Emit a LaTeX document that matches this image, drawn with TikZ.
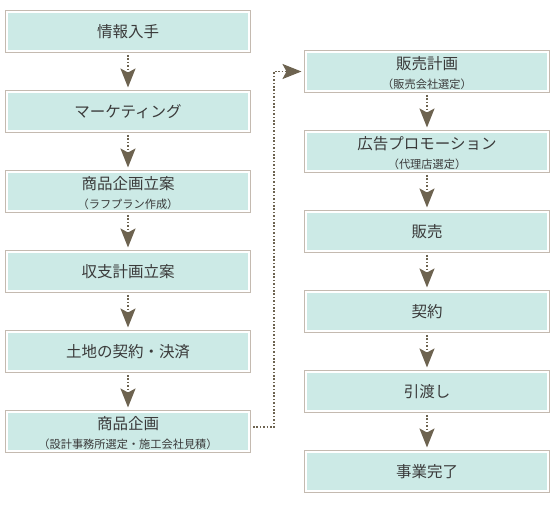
\documentclass[tikz,border=0pt]{standalone}
\usepackage{fontspec}
\setmainfont{Noto Sans CJK JP}
\usetikzlibrary{arrows.meta}
\definecolor{boxfill}{HTML}{CCEAE6}
\definecolor{boxline}{HTML}{C4BAB0}
\definecolor{arrowcol}{HTML}{6D6350}
\definecolor{textcol}{HTML}{3A3A3A}
\tikzset{
  box/.style={rectangle, minimum width=242pt, minimum height=39pt, inner sep=0pt,
    fill=boxfill, draw=white, line width=2pt,
    preaction={draw=boxline, line width=4.6pt}},
  maintext/.style={font=\fontsize{15.5pt}{17pt}\selectfont, text=textcol, inner sep=0pt},
  subtext/.style={font=\fontsize{11.2pt}{13pt}\selectfont, text=textcol, inner sep=0pt},
  conn/.style={arrowcol, line width=1.6pt, dash pattern=on 1.6pt off 1.8pt,
    -{Stealth[length=19pt, width=15pt, inset=4pt]}, shorten <=3pt, shorten >=3.5pt}
}
\begin{document}
\begin{tikzpicture}[x=1pt, y=-1pt]
\useasboundingbox (0,0) rectangle (560,505);
% left column
\node[box] (s1) at (128,31.5) {};
\node[box] (s2) at (128,111.5) {};
\node[box] (s3) at (128,191.5) {};
\node[box] (s4) at (128,271.5) {};
\node[box] (s5) at (128,351.5) {};
\node[box] (s6) at (128,431.5) {};
% right column
\node[box] (r1) at (427,71.5) {};
\node[box] (r2) at (427,151.5) {};
\node[box] (r3) at (427,231.5) {};
\node[box] (r4) at (427,311.5) {};
\node[box] (r5) at (427,391.5) {};
\node[box] (r6) at (427,471.5) {};
% texts
\node[maintext] (t1) at (s1) {情報入手};
\node[maintext] (t2) at (s2) {マーケティング};
\node[maintext] (t3) at ([yshift=7.5pt]s3.center) {商品企画立案};
\node[subtext] (u3) at ([yshift=-12.5pt]s3.center) {（ラフプラン作成）};
\node[maintext] (t4) at (s4) {収支計画立案};
\node[maintext] (t5) at (s5) {土地の契約・決済};
\node[maintext] (t6) at ([yshift=7.5pt]s6.center) {商品企画};
\node[subtext] (u6) at ([yshift=-12.5pt]s6.center) {（設計事務所選定・施工会社見積）};
\node[maintext] (q1) at ([yshift=7.5pt]r1.center) {販売計画};
\node[subtext] (v1) at ([yshift=-12.5pt]r1.center) {（販売会社選定）};
\node[maintext] (q2) at ([yshift=7.5pt]r2.center) {広告プロモーション};
\node[subtext] (v2) at ([yshift=-12.5pt]r2.center) {（代理店選定）};
\node[maintext] (q3) at (r3) {販売};
\node[maintext] (q4) at (r4) {契約};
\node[maintext] (q5) at (r5) {引渡し};
\node[maintext] (q6) at (r6) {事業完了};
% connectors
\draw[conn] (s1.south) -- (s2.north);
\draw[conn] (s2.south) -- (s3.north);
\draw[conn] (s3.south) -- (s4.north);
\draw[conn] (s4.south) -- (s5.north);
\draw[conn] (s5.south) -- (s6.north);
\draw[conn] ([yshift=4.5pt]s6.east) -- ++(24,0) |- (r1.west);
\draw[conn] (r1.south) -- (r2.north);
\draw[conn] (r2.south) -- (r3.north);
\draw[conn] (r3.south) -- (r4.north);
\draw[conn] (r4.south) -- (r5.north);
\draw[conn] (r5.south) -- (r6.north);
\end{tikzpicture}
\end{document}
